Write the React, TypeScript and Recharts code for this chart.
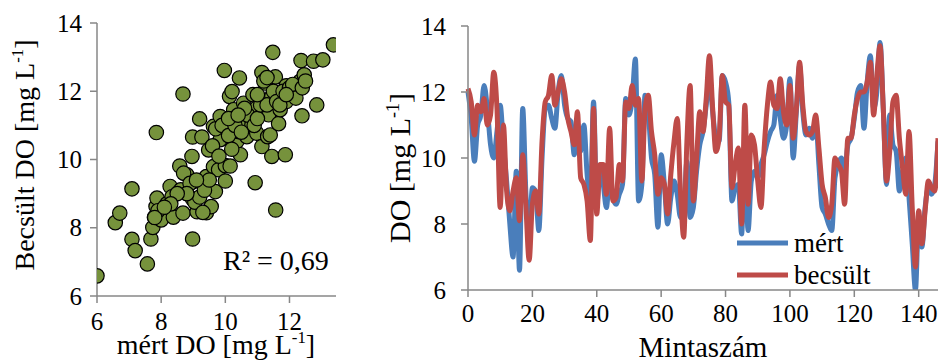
import React from "react";
import { ScatterChart, Scatter, LineChart, Line, XAxis, YAxis } from "recharts";

const FONT = '"Liberation Serif", "Times New Roman", serif';
const AXIS = "#878787";
const BLUE = "#4A7EBB";
const RED = "#BE4B48";
const GREEN = "#76923C";

// mért (measured) DO by sample index 0..146
const mert = [
  12.0, 11.2, 9.9, 11.0, 11.3, 12.2, 11.5, 10.4, 10.0, 10.8,
  11.6, 10.4, 9.3, 8.0, 7.0, 9.6, 6.6, 11.5, 8.9, 7.7,
  9.1, 9.0, 7.8, 10.0, 11.5, 11.6, 11.2, 10.9, 12.0, 12.5,
  11.6, 11.2, 11.1, 10.1, 11.0, 10.2, 11.0, 9.5, 8.7, 11.7,
  8.6, 9.6, 9.2, 8.5, 9.4, 8.8, 8.6, 8.9, 9.2, 11.8,
  11.3, 11.8, 13.0, 8.7, 9.2, 11.9, 11.4, 10.0, 9.5, 7.9,
  10.1, 9.2, 8.0, 8.8, 9.3, 8.9, 8.2, 8.4, 9.9, 8.2,
  8.5, 9.6, 10.4, 10.8, 11.6, 12.5, 11.4, 10.6, 10.5, 12.5,
  12.3, 11.7, 8.7, 9.1, 9.2, 7.7, 10.3, 7.8, 9.3, 9.6,
  9.4, 9.8, 10.1, 10.5, 10.8, 11.0, 11.9, 11.2, 10.6, 11.0,
  12.4, 10.0, 11.4, 12.8, 11.4, 10.7, 10.9, 10.6, 11.2, 9.8,
  8.5, 8.3, 8.0, 7.8, 9.4, 9.8, 10.0, 9.6, 10.4, 10.6,
  11.2, 12.0, 12.2, 10.9, 12.3, 13.1, 11.5, 12.0, 13.5, 11.5,
  9.2, 11.3, 10.4, 10.2, 9.0, 9.6, 10.0, 8.8, 7.4, 6.0,
  8.2, 7.3, 8.5, 9.1, 8.9, 9.2, 10.5,
];

// becsült (estimated) DO by sample index 0..146
const becsult = [
  12.1, 11.7, 10.7, 11.6, 11.4, 11.8, 11.0, 11.3, 12.6, 11.5,
  8.5, 11.0, 9.0, 8.4, 9.0, 9.4, 8.1, 10.1, 8.5, 6.9,
  8.6, 9.0, 8.3, 10.5, 11.7, 11.9, 12.5, 11.6, 12.0, 12.4,
  12.0, 11.2, 10.8, 10.4, 11.4, 9.4, 9.2, 8.7, 7.5, 11.5,
  8.3, 9.8, 9.8, 8.9, 10.9, 8.7, 8.8, 9.8, 9.3, 11.7,
  11.5, 12.2, 11.6, 11.8, 9.3, 11.5, 11.9, 10.8, 10.1, 8.9,
  9.4, 9.2, 8.3, 9.5, 10.5, 11.2, 9.0, 7.6, 10.5, 12.2,
  8.7, 10.0, 11.4, 10.8, 11.8, 13.1, 11.5, 10.2, 10.6, 12.5,
  11.7, 11.6, 9.1, 9.8, 10.3, 8.0, 11.6, 8.6, 10.7, 10.4,
  9.3, 8.5, 10.3, 11.6, 12.3, 11.6, 11.5, 12.4, 11.4, 11.0,
  12.2, 10.6, 11.5, 12.9, 11.6, 10.8, 10.7, 10.8, 11.3, 10.3,
  9.2, 8.8, 8.2, 8.6, 10.0, 9.8, 9.6, 8.6, 10.6, 10.6,
  11.3, 11.8, 12.0, 12.0, 12.3, 12.9, 11.3, 12.5, 13.4, 11.5,
  9.3, 10.2, 11.7, 11.9, 10.6, 9.7, 8.9, 10.8, 8.5, 6.7,
  8.4, 7.4, 8.4, 9.3, 9.1, 9.0, 10.6,
];

// scatter: measured (x) vs estimated (y)
const scatterX = [
  6.0, 6.57, 6.71, 7.09, 7.09, 7.19, 7.57, 7.68, 7.74, 7.79,
  7.84, 7.87, 7.85, 8.0, 8.18, 8.28, 8.38, 8.34, 8.58, 8.61,
  8.68, 8.68, 8.8, 8.96, 8.98, 8.98, 8.98, 8.99, 9.12, 9.2,
  9.27, 9.27, 9.41, 9.41, 9.48, 9.56, 9.63, 9.69, 9.63, 9.79,
  9.84, 9.84, 9.97, 10.0, 10.0, 10.15, 10.13, 10.21, 10.26, 10.26,
  10.36, 10.38, 10.44, 10.47, 10.52, 10.57, 10.67, 10.83, 10.86, 10.93,
  10.98, 10.98, 11.14, 11.14, 11.24, 11.32, 11.35, 11.4, 11.45, 11.48,
  11.45, 11.56, 11.57, 11.66, 11.71, 11.79, 11.87, 11.9, 12.02, 12.15,
  12.33, 12.39, 12.36, 12.46, 12.75, 12.85, 13.04, 13.37,
  8.7, 8.9, 9.05, 9.2, 9.35, 9.5, 9.3, 9.1, 8.8, 8.5,
  8.3, 7.9, 7.8, 8.1, 9.7, 9.9, 10.1, 10.3, 10.1, 10.5,
  10.7, 10.9, 11.0, 11.1, 11.3, 11.5, 11.6, 11.8, 11.9, 12.0,
  12.1, 12.2, 12.4, 12.5, 11.2, 11.3, 11.7, 11.9, 10.6, 10.4,
  9.6, 9.8, 10.2, 11.0,
];
const scatterY = [
  6.59, 8.15, 8.43, 9.14, 7.66, 7.33, 6.94, 7.67, 8.01, 8.31,
  8.62, 8.87, 10.79, 8.23, 8.7, 9.21, 8.31, 8.91, 9.81, 9.11,
  8.43, 11.92, 9.55, 10.09, 10.66, 8.84, 7.67, 9.35, 8.47, 11.19,
  9.32, 10.66, 8.44, 9.5, 10.28, 8.62, 10.97, 9.06, 9.79, 9.7,
  10.58, 11.26, 12.61, 9.37, 9.82, 9.81, 11.85, 11.99, 11.46, 11.21,
  10.53, 10.82, 12.39, 10.14, 11.02, 11.65, 10.67, 11.02, 11.9, 9.32,
  10.77, 11.51, 10.38, 12.55, 12.24, 10.67, 11.31, 10.72, 10.09, 13.14,
  11.85, 12.42, 8.52, 11.05, 11.46, 11.8, 10.14, 12.16, 11.95, 11.87,
  12.29, 11.28, 12.9, 12.48, 12.88, 11.6, 12.92, 13.36,
  9.6, 9.3, 8.75, 8.9, 9.1, 9.4, 8.45, 9.4, 9.0, 9.0,
  8.7, 8.5, 8.3, 8.6, 10.9, 11.0, 10.7, 11.0, 11.2, 10.8,
  11.3, 11.0, 11.2, 11.6, 11.6, 12.0, 11.7, 12.0, 11.7, 12.1,
  12.2, 11.8, 12.1, 12.3, 12.3, 12.4, 11.6, 11.9, 11.5, 11.3,
  10.4, 10.1, 10.3, 11.9,
];

const xTicksScatter = [6, 8, 10, 12];
const yTicks = [6, 8, 10, 12, 14];
const xTicksLine = [0, 20, 40, 60, 80, 100, 120, 140];

const lineData = mert.map((m, i) => ({ idx: i, mert: m, becsult: becsult[i] }));
const scatterData = scatterX.map((x, i) => ({ x, y: scatterY[i] }));

const serif = { fontFamily: FONT };

const XTick = (p: any) => (
  <text x={p.x} y={p.y} dy={18} textAnchor="middle" style={serif} fontSize={25} fill="#000">
    {p.payload.value}
  </text>
);

const YTick = (p: any) => (
  <text x={p.x} y={p.y} dy={8.5} textAnchor="end" style={serif} fontSize={25} fill="#000">
    {p.payload.value}
  </text>
);

const Dot = (props: any) => (
  <circle cx={props.cx} cy={props.cy} r={7.2} fill={GREEN} stroke="#000" strokeWidth={1.2} />
);

const Unit = ({ x, y, rotate, size = 28, children }: any) => (
  <text
    x={x}
    y={y}
    textAnchor="middle"
    style={serif}
    fontSize={size}
    fill="#000"
    transform={rotate ? `rotate(-90, ${x}, ${y})` : undefined}
  >
    {children} [mg L
    <tspan dy={-11} fontSize={size * 0.6}>-1</tspan>
    <tspan dy={11}>]</tspan>
  </text>
);

export default function App() {
  return (
    <div style={{ position: "absolute", left: 0, top: 0, width: 938, height: 363, background: "#fff" }}>
      <div style={{ position: "absolute", left: 0, top: 0 }}>
        <ScatterChart width={350} height={363} margin={{ top: 23, right: 14, bottom: 37, left: 0 }}>
          <XAxis
            type="number"
            dataKey="x"
            domain={[6, 13.45]}
            ticks={xTicksScatter}
            allowDataOverflow
            height={30}
            stroke={AXIS}
            strokeWidth={1.5}
            tickSize={7}
            tickMargin={9}
            tick={XTick}
            tickLine={{ stroke: AXIS, strokeWidth: 1.5 }}
          />
          <YAxis
            type="number"
            dataKey="y"
            domain={[6, 14]}
            ticks={yTicks}
            width={97}
            stroke={AXIS}
            strokeWidth={1.5}
            tickSize={7}
            tickMargin={8}
            tick={YTick}
            tickLine={{ stroke: AXIS, strokeWidth: 1.5 }}
          />
          <Scatter data={scatterData} shape={Dot} isAnimationActive={false} />
          <Unit x={34} y={155} rotate>Becsült DO</Unit>
          <Unit x={216} y={354}>mért DO</Unit>
          <text x={223} y={270} style={serif} fontSize={28} fill="#000">R² = 0,69</text>
        </ScatterChart>
      </div>
      <div style={{ position: "absolute", left: 360, top: 0 }}>
        <LineChart width={578} height={363} data={lineData} margin={{ top: 26, right: 0, bottom: 43, left: 0 }}>
          <XAxis
            type="number"
            dataKey="idx"
            domain={[0, 146]}
            ticks={xTicksLine}
            height={30}
            stroke={AXIS}
            strokeWidth={1.5}
            tickSize={7}
            tickMargin={7}
            tick={XTick}
            tickLine={{ stroke: AXIS, strokeWidth: 1.5 }}
          />
          <YAxis
            type="number"
            domain={[6, 14]}
            ticks={yTicks}
            allowDataOverflow
            width={108}
            stroke={AXIS}
            strokeWidth={1.5}
            tickSize={7}
            tickMargin={15}
            tick={YTick}
            tickLine={{ stroke: AXIS, strokeWidth: 1.5 }}
          />
          <Line
            type="monotone"
            dataKey="mert"
            name="mért"
            stroke={BLUE}
            strokeWidth={5}
            dot={false}
            isAnimationActive={false}
          />
          <Line
            type="monotone"
            dataKey="becsult"
            name="becsült"
            stroke={RED}
            strokeWidth={5}
            dot={false}
            isAnimationActive={false}
          />
          <g>
            <line x1={377} y1={243} x2={428} y2={243} stroke={BLUE} strokeWidth={5} />
            <text x={434} y={252} style={serif} fontSize={27} fill="#000">mért</text>
            <line x1={377} y1={275} x2={428} y2={275} stroke={RED} strokeWidth={5} />
            <text x={434} y={284} style={serif} fontSize={27} fill="#000">becsült</text>
          </g>
          <Unit x={50} y={168} size={30} rotate>DO</Unit>
          <text x={343} y={357} textAnchor="middle" style={serif} fontSize={29} fill="#000">Mintaszám</text>
        </LineChart>
      </div>
    </div>
  );
}
